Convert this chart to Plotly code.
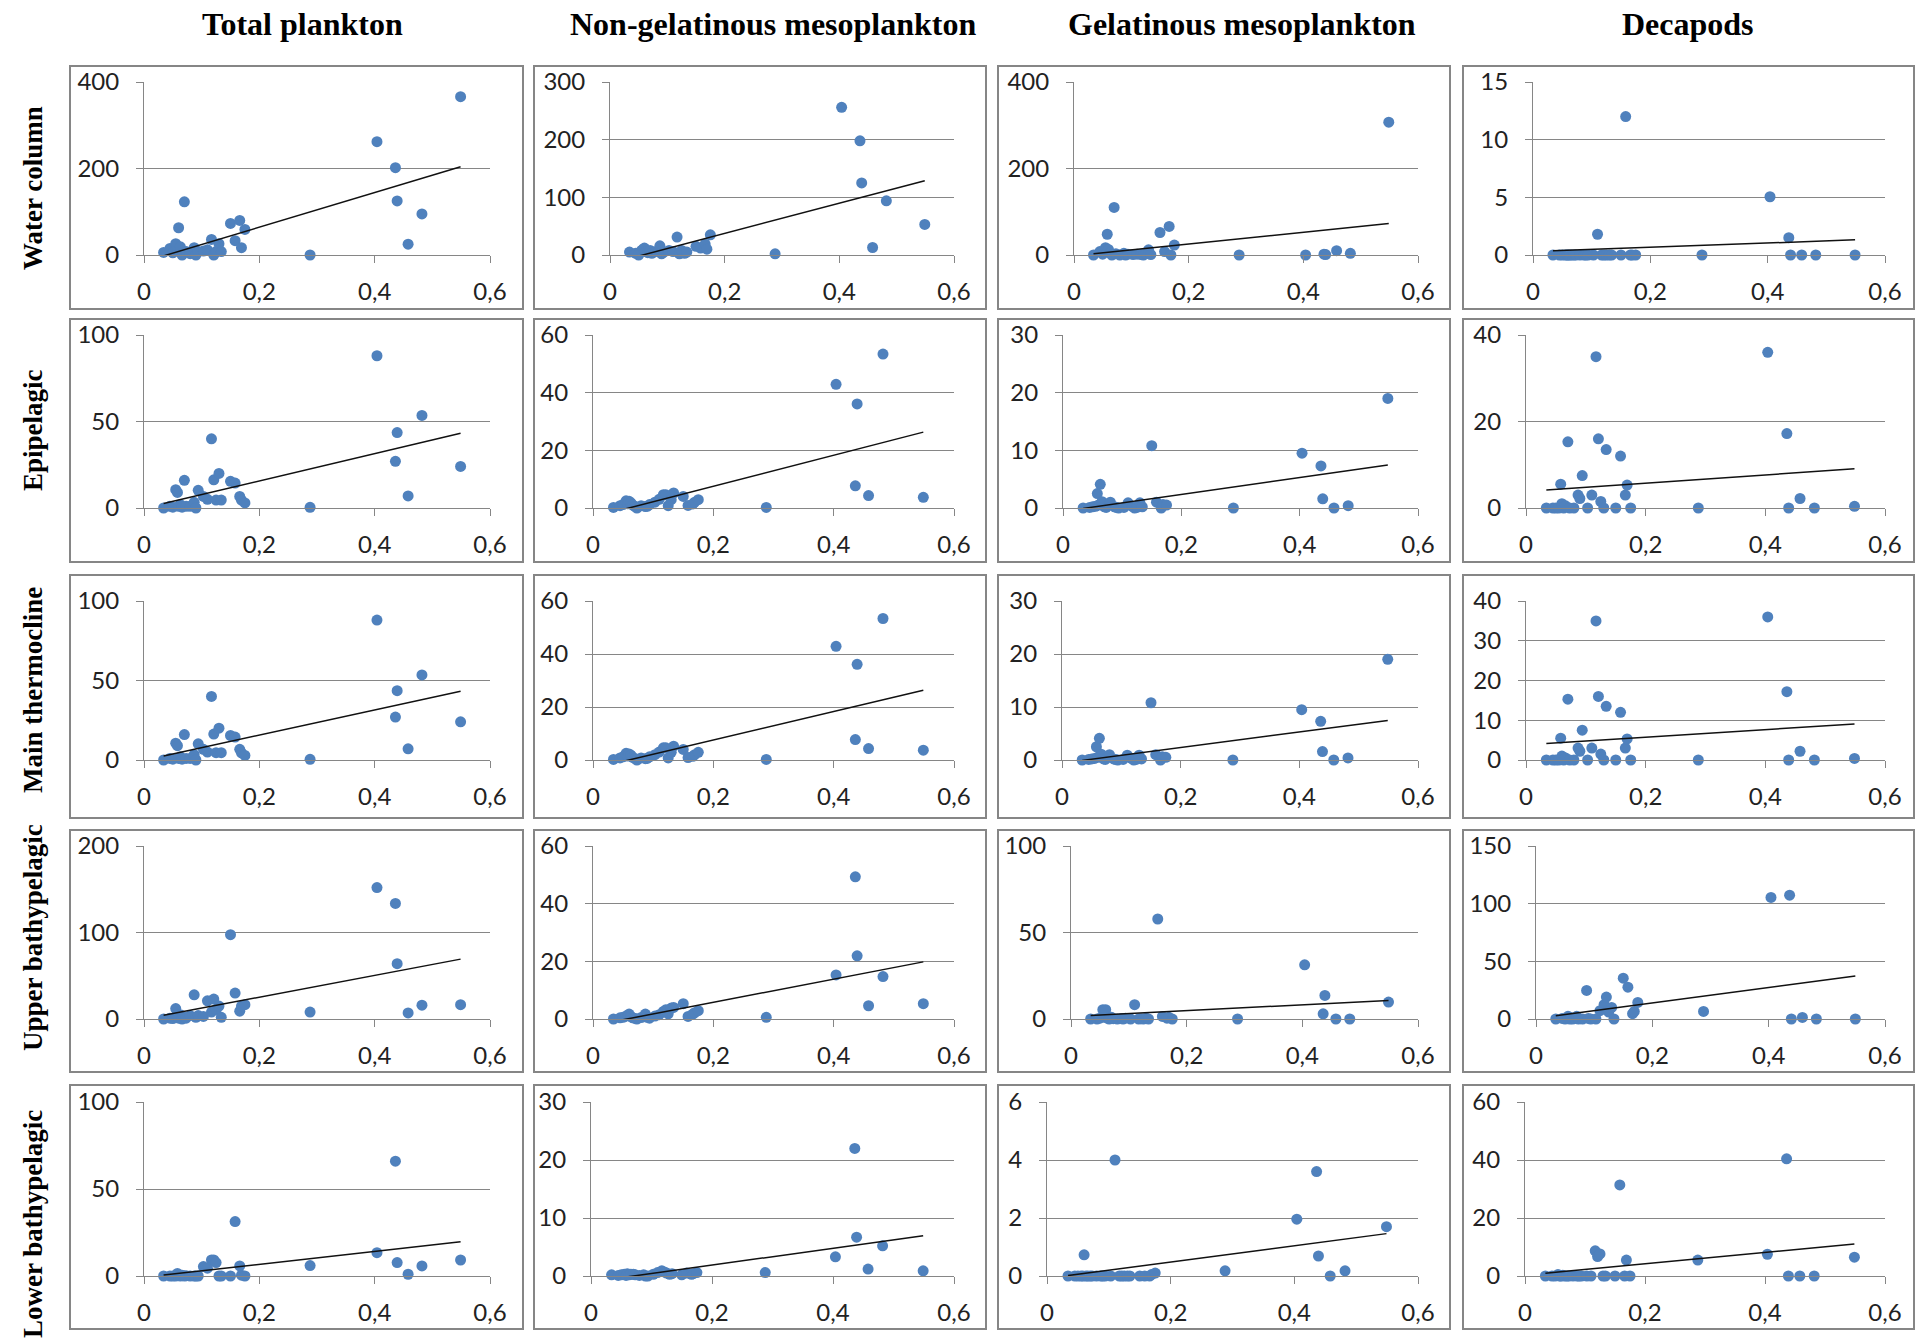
import numpy as np
import plotly.graph_objects as go

# ---------------- data ----------------
col_titles = ["Total plankton", "Non-gelatinous mesoplankton", "Gelatinous mesoplankton", "Decapods"]
row_titles = ["Water column", "Epipelagic", "Main thermocline", "Upper bathypelagic", "Lower bathypelagic"]

x_vals = [0.034, 0.045, 0.050, 0.055, 0.058, 0.060, 0.063, 0.066, 0.070, 0.073,
          0.080, 0.087, 0.090, 0.094, 0.103, 0.110, 0.117, 0.121, 0.125, 0.130,
          0.134, 0.150, 0.158, 0.166, 0.169, 0.175,
          0.288, 0.404, 0.436, 0.439, 0.458, 0.482, 0.549]

water_total = [6, 15, 5, 26, 10, 63, 19, 0, 123, 8, 3, 17, 0, 8, 9, 12, 36, 0, 8, 26,
               8, 73, 33, 80, 17, 59, 0, 262, 202, 125, 25, 95, 366]
water_nongel = [5, 3, 0, 8, 10, 12, 6, 4, 8, 3, 6, 16, 2, 5, 8, 6, 31, 2, 8, 3,
                5, 15, 12, 19, 10, 35, 2, 256, 198, 125, 13, 94, 53]
water_gel = [0, 8, 2, 17, 48, 13, 5, 0, 110, 3, 0, 4, 0, 2, 1, 2, 1, 0, 3, 12,
             1, 52, 8, 66, 0, 23, 0, 0, 2, 1, 10, 4, 307]
water_dec = [0, 0, 0, 0, 0, 0, 0, 0, 0, 0, 0, 0, 0, 0, 0, 1.8, 0, 0, 0, 0,
             0, 0, 12, 0, 0, 0, 0, 5.05, 1.5, 0, 0, 0, 0]

epi_total = [0, 1, 0.5, 10.6, 9, 1, 2, 0.5, 16, 1, 1, 3.3, 0, 10.2, 6.7, 5, 40, 16.3, 4.6, 20,
             4.6, 15.4, 14.4, 6.7, 4.5, 2.9, 0.4, 88, 27, 43.6, 7, 53.5, 24]
epi_nongel = [0.2, 0.8, 1.2, 2.5, 1.5, 2.3, 1.8, 1, 0.5, 0, 0.8, 0.5, 0.6, 1.2, 2, 3, 4.6, 4.6, 0.8, 2.9,
              5.2, 4, 0.9, 1.4, 2, 2.9, 0.2, 42.9, 7.7, 36.1, 4.3, 53.4, 3.7]
epi_gel = [0, 0.1, 0.2, 0.3, 2.5, 0.5, 4.1, 1.1, 0.2, 0.1, 1, 0.2, 0.1, 0, 0.1, 0.9, 0.3, 0, 0.1, 0.9,
           0.2, 10.8, 1, 0, 0.6, 0.5, 0, 9.5, 7.3, 1.6, 0, 0.4, 19]
epi_dec = [0, 0, 0, 0, 5.5, 1, 0, 0.5, 15.3, 0, 0, 3, 2.2, 7.5, 0, 3, 35, 16, 1.5, 0,
           13.5, 0, 12, 3, 5.3, 0, 0, 36, 17.2, 0, 2.2, 0, 0.4]

thermo_total = [0, 1, 0.5, 10.6, 9, 1, 2, 0.5, 16, 1, 1, 3.3, 0, 10.2, 6.7, 5, 40, 16.3, 4.6, 20,
                4.6, 15.4, 14.4, 6.7, 4.5, 2.9, 0.4, 88, 27, 43.6, 7, 53.5, 24]
thermo_nongel = [0.2, 0.8, 1.2, 2.5, 1.5, 2.3, 1.8, 1, 0.5, 0, 0.8, 0.5, 0.6, 1.2, 2, 3, 4.6, 4.6, 0.8, 2.9,
                 5.2, 4, 0.9, 1.4, 2, 2.9, 0.2, 42.9, 7.7, 36.1, 4.3, 53.4, 3.7]
thermo_gel = [0, 0.1, 0.2, 0.3, 2.5, 0.5, 4.1, 1.1, 0.2, 0.1, 1, 0.2, 0.1, 0, 0.1, 0.9, 0.3, 0, 0.1, 0.9,
              0.2, 10.8, 1, 0, 0.6, 0.5, 0, 9.5, 7.3, 1.6, 0, 0.4, 19]
thermo_dec = [0, 0, 0, 0, 5.5, 1, 0, 0.5, 15.3, 0, 0, 3, 2.2, 7.5, 0, 3, 35, 16, 1.5, 0,
              13.5, 0, 12, 3, 5.3, 0, 0, 36, 17.2, 0, 2.2, 0, 0.4]

upper_total = [0, 1, 0.5, 12, 3, 1, 5, 0, 2, 1, 4, 28, 2, 4, 3, 21, 8, 23, 11, 15,
               2, 97.5, 30, 9, 15, 16.5, 8, 152, 133.6, 64, 7, 16, 16.5]
upper_nongel = [0, 0.4, 0.6, 1, 1.2, 1.7, 0.8, 0.4, 0.2, 0, 0.5, 1.7, 0.6, 0.3, 1, 1.5, 2.6, 3.2, 1.8, 3.8,
                4, 5.3, 0.9, 1.7, 2.2, 2.9, 0.6, 15.3, 49.3, 21.9, 4.6, 14.7, 5.3]
upper_gel = [0, 0, 0.5, 5.4, 1, 5.4, 0.5, 0, 1, 0.2, 0, 0.3, 0, 0.5, 0, 8.3, 0, 0.2, 0, 0.5,
             0, 57.8, 1.5, 0.5, 1, 0, 0, 31.3, 3, 13.6, 0, 0, 9.8]
upper_dec = [0, 0.5, 0, 2.3, 0, 1, 0, 0.5, 2.3, 0, 0, 24.8, 0.5, 0, 0, 7.2, 12.4, 19, 6, 10,
             0, 35.4, 27.6, 4.6, 6.6, 14.4, 6.6, 105.4, 107.4, 0, 1.4, 0, 0]

lower_total = [0, 0, 0, 0, 1.5, 0.3, 0, 0.5, 0, 0.2, 0, 0, 0, 0, 5.4, 4.5, 9.2, 9.2, 7.7, 0,
               0, 0, 31.3, 5.8, 0.5, 0, 6, 13.4, 66, 7.7, 1, 5.8, 9.2]
lower_nongel = [0.2, 0.1, 0.2, 0.3, 0.1, 0.4, 0.2, 0.3, 0.3, 0.2, 0.1, 0.2, 0, 0, 0.3, 0.6, 0.9, 0.7, 0.5, 0.3,
                0.4, 0.2, 0.5, 0.3, 0.4, 0.6, 0.6, 3.3, 22, 6.7, 1.2, 5.2, 0.9]
lower_gel = [0, 0, 0, 0, 0, 0.73, 0, 0, 0, 0, 0, 0, 0, 0, 0, 4.0, 0, 0, 0, 0,
             0, 0, 0, 0, 0.05, 0.1, 0.18, 1.96, 3.6, 0.69, 0, 0.18, 1.7]
lower_dec = [0, 0, 0, 0.5, 0, 0, 0.3, 0, 0, 0, 0, 0, 0, 0, 0, 0, 8.7, 6.7, 7.6, 0,
             0, 0, 31.4, 0, 5.5, 0, 5.5, 7.5, 40.4, 0, 0, 0, 6.5]

panel_data = [
    [water_total, water_nongel, water_gel, water_dec],
    [epi_total, epi_nongel, epi_gel, epi_dec],
    [thermo_total, thermo_nongel, thermo_gel, thermo_dec],
    [upper_total, upper_nongel, upper_gel, upper_dec],
    [lower_total, lower_nongel, lower_gel, lower_dec],
]
y_max = [[400, 300, 400, 15], [100, 60, 30, 40], [100, 60, 30, 40], [200, 60, 100, 150], [100, 30, 6, 60]]
y_step = [[200, 100, 200, 5], [50, 20, 10, 20], [50, 20, 10, 10], [100, 20, 50, 50], [50, 10, 2, 20]]

# ---------------- layout geometry (pixels) ----------------
W, H = 1916, 1340
box_left = [70, 534, 998, 1463]
box_right = [523, 986, 1450, 1914]
box_top = [66, 319, 575, 830, 1085]
box_bottom = [309, 562, 818, 1072, 1329]
plot_right = [490, 954, 1418, 1885]
plot_top = [82, 335, 601, 846, 1102]
plot_zero = [255, 508, 760, 1019, 1276]
plot_left = [
    [144, 610, 1074, 1533],
    [144, 593, 1063, 1526],
    [144, 593, 1062, 1526],
    [144, 593, 1071, 1536],
    [144, 591, 1047, 1525],
]
col_title_x = [302, 773, 1242, 1688]
row_title_y = [188, 430, 690, 938, 1224]

GRAY = "#868686"
BLUE = "#4F81BD"
tick_font = dict(family="Lato, Open Sans, sans-serif", size=24, color="#222222")
col_font = dict(family="Liberation Serif, Times New Roman, serif", size=32, color="black")
row_font = dict(family="Liberation Serif, Times New Roman, serif", size=27, color="black")

fig = go.Figure()
layout = {}
shapes = []
annotations = []

for r in range(5):
    for c in range(4):
        k = r * 4 + c + 1
        sfx = "" if k == 1 else str(k)
        xref, yref = "x" + sfx, "y" + sfx
        ys = panel_data[r][c]

        fig.add_trace(go.Scatter(
            x=x_vals, y=ys, mode="markers", xaxis=xref, yaxis=yref,
            marker=dict(color=BLUE, size=11, line=dict(width=0)),
            cliponaxis=False, showlegend=False, hoverinfo="x+y"))

        slope, icpt = np.polyfit(np.array(x_vals), np.array(ys, dtype=float), 1)
        xl = [min(x_vals), max(x_vals)]
        fig.add_trace(go.Scatter(
            x=xl, y=[icpt + slope * v for v in xl], mode="lines", xaxis=xref, yaxis=yref,
            line=dict(color="#111111", width=1.5), showlegend=False, hoverinfo="skip"))

        layout["xaxis" + sfx] = dict(
            domain=[plot_left[r][c] / W, plot_right[c] / W],
            range=[0, 0.6], tick0=0, dtick=0.2, anchor=yref,
            showgrid=False, zeroline=False, showline=True, linecolor=GRAY, linewidth=1,
            ticks="outside", ticklen=7, tickcolor=GRAY, tickwidth=1,
            tickfont=tick_font, ticklabelstandoff=8, fixedrange=True)
        layout["yaxis" + sfx] = dict(
            domain=[1 - plot_zero[r] / H, 1 - plot_top[r] / H],
            range=[0, y_max[r][c]], tick0=0, dtick=y_step[r][c], anchor=xref,
            showgrid=True, gridcolor=GRAY, gridwidth=1, zeroline=False,
            showline=True, linecolor=GRAY, linewidth=1,
            ticks="outside", ticklen=7, tickcolor=GRAY, tickwidth=1,
            tickfont=tick_font, ticklabelstandoff=12, fixedrange=True)

        shapes.append(dict(type="rect", xref="paper", yref="paper",
                           x0=box_left[c] / W, x1=box_right[c] / W,
                           y0=1 - box_bottom[r] / H, y1=1 - box_top[r] / H,
                           line=dict(color=GRAY, width=2), fillcolor="rgba(0,0,0,0)",
                           layer="below"))

for c, t in enumerate(col_titles):
    annotations.append(dict(text="<b>%s</b>" % t, x=col_title_x[c] / W, y=1 - 24 / H,
                            xref="paper", yref="paper", showarrow=False,
                            xanchor="center", yanchor="middle", font=col_font))
for r, t in enumerate(row_titles):
    annotations.append(dict(text="<b>%s</b>" % t, x=33 / W, y=1 - row_title_y[r] / H,
                            xref="paper", yref="paper", showarrow=False, textangle=-90,
                            xanchor="center", yanchor="middle", font=row_font))

fig.update_layout(
    width=W, height=H, margin=dict(l=0, r=0, t=0, b=0, pad=0, autoexpand=False),
    paper_bgcolor="white", plot_bgcolor="white",
    separators=", ", showlegend=False,
    shapes=shapes, annotations=annotations, **layout)

fig.write_html("out.html", config={"displayModeBar": False},
               post_script="document.body.style.margin='0';document.body.style.overflow='hidden';")
